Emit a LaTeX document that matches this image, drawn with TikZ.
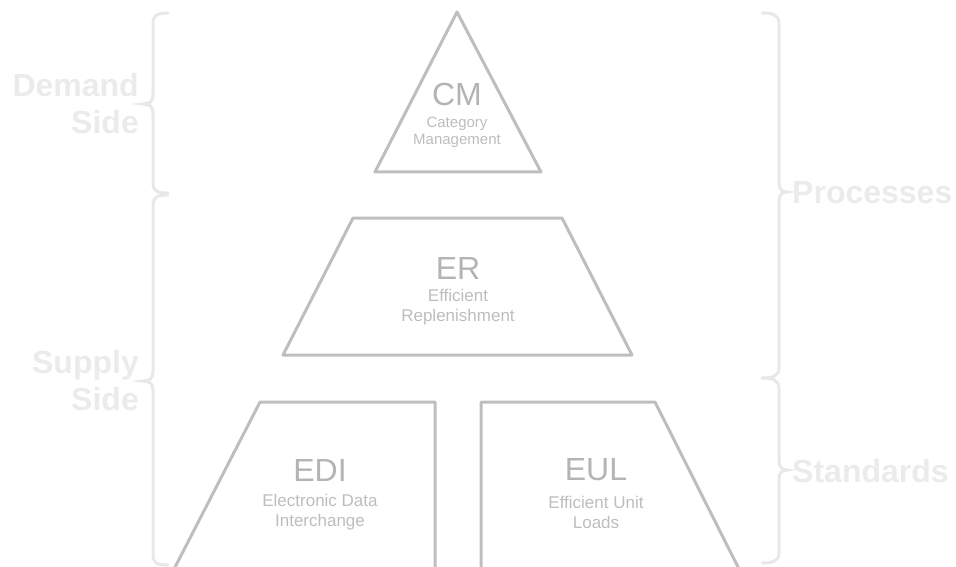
\documentclass[tikz,border=0pt]{standalone}
\usepackage{fontspec}
\setmainfont{Liberation Sans}
\definecolor{shapeline}{HTML}{BEBEBE}
\definecolor{bigtext}{HTML}{B4B4B4}
\definecolor{smalltext}{HTML}{BDBDBD}
\definecolor{bracecol}{HTML}{E8E8E8}
\definecolor{sidetext}{HTML}{EBEBEB}
\tikzset{
  shapeborder/.style={draw=shapeline, line width=3pt, line join=round},
  bracepath/.style={draw=bracecol, line width=3pt, line cap=round},
  bigtitle/.style={text=bigtext, font=\fontsize{32}{34}\selectfont, inner sep=0pt},
  subtitle/.style={text=smalltext, align=center, inner sep=0pt},
  sidelabel/.style={text=sidetext, font=\fontsize{32}{37}\selectfont\bfseries, inner sep=0pt},
}
\begin{document}
\begin{tikzpicture}[x=1pt,y=-1pt]
\useasboundingbox (0,0) rectangle (956,567);
% shapes
\draw[shapeborder] (457,12) -- (541,172) -- (375,172) -- cycle;
\draw[shapeborder] (353,218) -- (562,218) -- (632,355) -- (283,355) -- cycle;
\draw[shapeborder] (260,402) -- (435,402) -- (435,575) -- (171,575) -- cycle;
\draw[shapeborder] (481,402) -- (655,402) -- (742,575) -- (481,575) -- cycle;
% texts
\node[bigtitle] (cm) at (457,94) {CM};
\node[subtitle, font=\fontsize{15}{17}\selectfont] (cmsub) at (457,132) {Category\\Management};
\node[bigtitle] (er) at (458,268) {ER};
\node[subtitle, font=\fontsize{17}{20}\selectfont] (ersub) at (458,307) {Efficient\\Replenishment};
\node[bigtitle] (edi) at (320,470) {EDI};
\node[subtitle, font=\fontsize{17}{20}\selectfont] (edisub) at (320,512) {Electronic Data\\Interchange};
\node[bigtitle] (eul) at (596,470) {EUL};
\node[subtitle, font=\fontsize{17}{20}\selectfont] (eulsub) at (596,512) {Efficient Unit\\Loads};
% left braces
\draw[bracepath] (168,13) .. controls (157,13) and (153,15) .. (153,24) -- (153,95) .. controls (153,101) and (150,104) .. (143,104) .. controls (150,104) and (153,107) .. (153,113) -- (153,183) .. controls (153,191) and (157,193) .. (168,193);
\draw[bracepath] (168,195) .. controls (157,195) and (153,197) .. (153,206) -- (153,372) .. controls (153,378) and (150,381) .. (143,381) .. controls (150,381) and (153,384) .. (153,390) -- (153,555) .. controls (153,563) and (157,565) .. (168,565);
% right braces
\draw[bracepath] (762,13) .. controls (773,13) and (779,15) .. (779,24) -- (779,183) .. controls (779,189) and (782,192) .. (787,192) .. controls (782,192) and (779,195) .. (779,201) -- (779,368) .. controls (779,376) and (773,378) .. (762,378);
\draw[bracepath] (762,378) .. controls (773,378) and (779,380) .. (779,389) -- (779,461) .. controls (779,467) and (782,470) .. (787,470) .. controls (782,470) and (779,473) .. (779,479) -- (779,553) .. controls (779,561) and (773,563) .. (762,563);
% side labels
\node[sidelabel, anchor=east, align=right] (demand) at (139,104) {Demand\\Side};
\node[sidelabel, anchor=east, align=right] (supply) at (139,381) {Supply\\Side};
\node[sidelabel, anchor=west] (processes) at (792,193) {Processes};
\node[sidelabel, anchor=west] (standards) at (792,471) {Standards};
\end{tikzpicture}
\end{document}
